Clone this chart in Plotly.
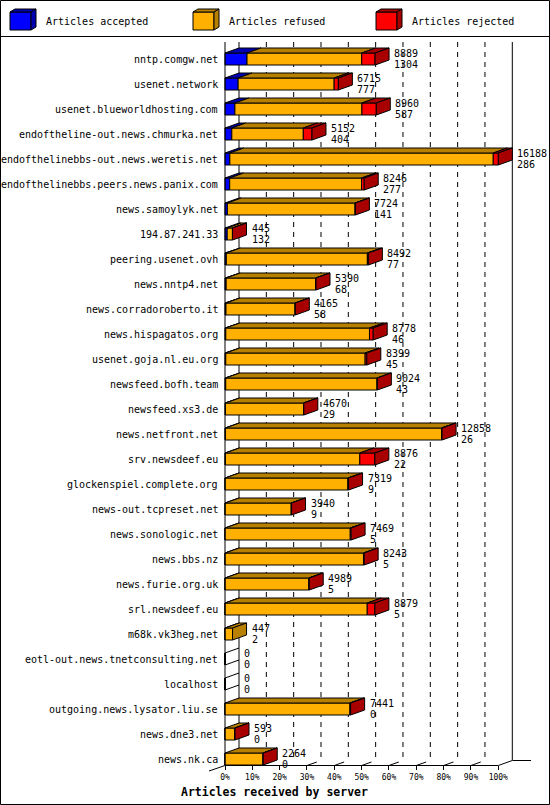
import plotly.graph_objects as go

hosts = [
    "nntp.comgw.net", "usenet.network", "usenet.blueworldhosting.com",
    "endoftheline-out.news.chmurka.net", "endofthelinebbs-out.news.weretis.net",
    "endofthelinebbs.peers.news.panix.com", "news.samoylyk.net", "194.87.241.33",
    "peering.usenet.ovh", "news.nntp4.net", "news.corradoroberto.it",
    "news.hispagatos.org", "usenet.goja.nl.eu.org", "newsfeed.bofh.team",
    "newsfeed.xs3.de", "news.netfront.net", "srv.newsdeef.eu",
    "glockenspiel.complete.org", "news-out.tcpreset.net", "news.sonologic.net",
    "news.bbs.nz", "news.furie.org.uk", "srl.newsdeef.eu", "m68k.vk3heg.net",
    "eotl-out.news.tnetconsulting.net", "localhost", "outgoing.news.lysator.liu.se",
    "news.dne3.net", "news.nk.ca",
]
accepted = [1304, 777, 587, 404, 286, 277, 141, 132, 77, 68, 58, 46, 45, 43, 29,
            26, 22, 9, 9, 5, 5, 5, 5, 2, 0, 0, 0, 0, 0]
refused = [6795, 5688, 7523, 4233, 15602, 7809, 7563, 308, 8355, 5307, 4092, 8512,
           8254, 8961, 4626, 12802, 7964, 7270, 3911, 7414, 8198, 4964, 8419, 445,
           0, 0, 7401, 578, 2249]
rejected = [790, 250, 850, 515, 300, 160, 20, 5, 60, 15, 15, 220, 100, 20, 15, 30,
            890, 40, 20, 50, 40, 20, 455, 0, 0, 0, 40, 15, 15]

series_names = ["Articles accepted", "Articles refused", "Articles rejected"]
front_colors = ["#0000ff", "#ffb000", "#ff0000"]
shade_colors = ["#0000b0", "#b88000", "#a80000"]
pct_ticks = [0, 10, 20, 30, 40, 50, 60, 70, 80, 90, 100]
axis_title = "Articles received by server"

series = [accepted, refused, rejected]
offered = [a + r + j for a, r, j in zip(accepted, refused, rejected)]
xmax = max(offered)
rows = list(range(len(hosts)))

# pixel geometry of the original gd chart
W, H = 550, 805
PLOT_BOTTOM = 765
X0, X100 = 225, 498.3
ROW0, ROW_STEP = 59, 25
upx = xmax / (X100 - X0)          # data units per pixel
DEPTH_X = 14 * upx
DEPTH_Y = 5 / ROW_STEP
HALF = 6 / ROW_STEP
FONT = "DejaVu Sans Mono"


def xd(px):
    return (px - X0) * upx


def yd(py):
    return (py - ROW0) / ROW_STEP


def paper_x(px):
    return px / W


def paper_y(py):
    return (PLOT_BOTTOM - py) / PLOT_BOTTOM


fig = go.Figure()

# front faces
seg_bases = []
cum = [0] * len(rows)
for k, vals in enumerate(series):
    seg_bases.append(list(cum))
    fig.add_trace(go.Bar(
        y=rows, x=vals, base=list(cum), orientation="h", width=2 * HALF,
        marker=dict(color=front_colors[k], line=dict(color="black", width=1)),
        name=series_names[k], showlegend=False, hoverinfo="skip"))
    cum = [c + v for c, v in zip(cum, vals)]

# top faces
for k, vals in enumerate(series):
    xs, ys = [], []
    for i in rows:
        v = vals[i]
        if v <= 0:
            continue
        b = seg_bases[k][i]
        top = i - HALF
        xs += [b, b + DEPTH_X, b + v + DEPTH_X, b + v, b, None]
        ys += [top, top - DEPTH_Y, top - DEPTH_Y, top, top, None]
    fig.add_trace(go.Scatter(
        x=xs, y=ys, mode="lines", fill="toself", fillcolor=shade_colors[k],
        line=dict(color="black", width=1), showlegend=False, hoverinfo="skip"))

# side faces (colour of the last non empty segment)
for k in range(len(series)):
    xs, ys = [], []
    for i in rows:
        if offered[i] == 0:
            continue
        last = max(j for j in range(len(series)) if series[j][i] > 0)
        if last != k:
            continue
        e = offered[i]
        top, bot = i - HALF, i + HALF
        xs += [e, e + DEPTH_X, e + DEPTH_X, e, e, None]
        ys += [top, top - DEPTH_Y, bot - DEPTH_Y, bot, top, None]
    if xs:
        fig.add_trace(go.Scatter(
            x=xs, y=ys, mode="lines", fill="toself", fillcolor=shade_colors[k],
            line=dict(color="black", width=1), showlegend=False, hoverinfo="skip"))

# empty hosts: only the outline of a flat box
xs, ys = [], []
for i in rows:
    if offered[i] == 0:
        top, bot = i - HALF, i + HALF
        xs += [0, DEPTH_X, None, 0, DEPTH_X, None]
        ys += [top, top - DEPTH_Y, None, bot, bot - DEPTH_Y, None]
fig.add_trace(go.Scatter(x=xs, y=ys, mode="lines", line=dict(color="black", width=1),
                         showlegend=False, hoverinfo="skip"))

# labels
ann = []
for i in rows:
    ann.append(dict(x=xd(220), y=i, text=hosts[i], xanchor="right", yanchor="middle",
                    showarrow=False, font=dict(family=FONT, size=10, color="black")))
    lx = offered[i] + DEPTH_X + 3 * upx
    ann.append(dict(x=lx, y=i - 0.22, text=str(offered[i]), xanchor="left",
                    yanchor="middle", showarrow=False,
                    font=dict(family=FONT, size=10, color="black")))
    ann.append(dict(x=lx, y=i + 0.22, text=str(accepted[i]), xanchor="left",
                    yanchor="middle", showarrow=False,
                    font=dict(family=FONT, size=10, color="black")))

ann.append(dict(x=paper_x(274), y=paper_y(792), xref="paper", yref="paper",
                text="<b>" + axis_title + "</b>", showarrow=False,
                xanchor="center", yanchor="middle",
                font=dict(family=FONT, size=11.5, color="black")))

shapes = []
# back grid
for p in pct_ticks:
    gx = xmax * p / 100 + DEPTH_X
    solid = p in (0, 100)
    shapes.append(dict(type="line", xref="x", yref="y", x0=gx, x1=gx, y0=yd(42), y1=yd(760),
                       layer="below",
                       line=dict(color="black", width=1, dash="solid" if solid else "5px,5px")))
# front axis
shapes.append(dict(type="line", xref="x", yref="paper", x0=0, x1=0,
                   y0=paper_y(42), y1=paper_y(765), line=dict(color="black", width=1)))
shapes.append(dict(type="line", xref="x", yref="paper", x0=0, x1=xmax,
                   y0=paper_y(765.5), y1=paper_y(765.5), line=dict(color="black", width=1)))
shapes.append(dict(type="line", xref="x", yref="paper", x0=xmax, x1=xmax + DEPTH_X,
                   y0=paper_y(765.5), y1=paper_y(760.5), line=dict(color="black", width=1)))
shapes.append(dict(type="line", xref="x", yref="paper", x0=xmax + DEPTH_X, x1=xd(531),
                   y0=paper_y(760.5), y1=paper_y(760.5), line=dict(color="black", width=1)))
shapes.append(dict(type="line", xref="x", yref="paper", x0=xd(209), x1=0,
                   y0=paper_y(771), y1=paper_y(765.5), line=dict(color="black", width=1)))
for p in pct_ticks[3:10]:
    fx = xmax * p / 100
    shapes.append(dict(type="line", xref="x", yref="paper", x0=fx, x1=fx + DEPTH_X * 0.7,
                       y0=paper_y(765.5), y1=paper_y(762), line=dict(color="black", width=1)))

# outer frame and legend box
shapes.append(dict(type="rect", xref="paper", yref="paper", x0=paper_x(0.5), x1=paper_x(549.5),
                   y0=paper_y(804.5), y1=paper_y(0.5), line=dict(color="black", width=1)))
shapes.append(dict(type="line", xref="paper", yref="paper", x0=paper_x(0), x1=paper_x(550),
                   y0=paper_y(36.5), y1=paper_y(36.5), line=dict(color="black", width=1)))


def ppath(pts):
    return "M " + " L ".join(f"{paper_x(a)},{paper_y(b)}" for a, b in pts) + " Z"


for k, name in enumerate(series_names):
    lx = 10 + 183 * k
    shapes.append(dict(type="path", xref="paper", yref="paper",
                       path=ppath([(lx, 12), (lx + 21, 12), (lx + 21, 30), (lx, 30)]),
                       fillcolor=front_colors[k], line=dict(color="black", width=1)))
    shapes.append(dict(type="path", xref="paper", yref="paper",
                       path=ppath([(lx, 12), (lx + 5, 9), (lx + 26, 9), (lx + 21, 12)]),
                       fillcolor=shade_colors[k], line=dict(color="black", width=1)))
    shapes.append(dict(type="path", xref="paper", yref="paper",
                       path=ppath([(lx + 21, 12), (lx + 26, 9), (lx + 26, 27), (lx + 21, 30)]),
                       fillcolor=shade_colors[k], line=dict(color="black", width=1)))
    ann.append(dict(x=paper_x(lx + 34), y=paper_y(21), xref="paper", yref="paper",
                    text=name, xanchor="left", yanchor="middle", showarrow=False,
                    font=dict(family=FONT, size=10, color="black")))

fig.update_layout(
    width=W, height=H,
    margin=dict(l=0, r=0, t=0, b=H - PLOT_BOTTOM, autoexpand=False),
    paper_bgcolor="white", plot_bgcolor="white",
    barmode="overlay", showlegend=False,
    shapes=shapes, annotations=ann,
    xaxis=dict(range=[xd(0), xd(W)], tickvals=[xmax * p / 100 for p in pct_ticks],
               ticktext=[f"{p}%" for p in pct_ticks], ticks="outside", ticklen=4,
               tickcolor="black", tickfont=dict(family=FONT, size=8, color="black"),
               showgrid=False, zeroline=False, showline=False, fixedrange=True),
    yaxis=dict(range=[yd(PLOT_BOTTOM), yd(0)], visible=False, fixedrange=True),
)

# the page body has a default 8px margin; drop it so the chart fills the window
fig.write_html("out.html", config={"displayModeBar": False},
               post_script="document.body.style.margin='0px';")
